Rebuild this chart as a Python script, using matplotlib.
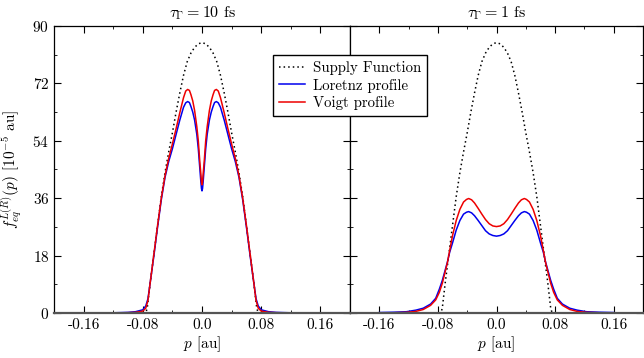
import matplotlib
matplotlib.use("Agg")
import matplotlib.pyplot as plt
from matplotlib.ticker import MultipleLocator

plt.rcParams["font.family"] = "serif"
plt.rcParams["font.serif"] = ["cmr10", "DejaVu Serif"]
plt.rcParams["mathtext.fontset"] = "cm"
plt.rcParams["axes.unicode_minus"] = False
plt.rcParams["axes.formatter.use_mathtext"] = True
plt.rcParams["font.size"] = 11

# supply function (same in both panels)
p_sup = [-0.16, -0.1, -0.08, -0.076, -0.074, -0.07, -0.065, -0.06, -0.055, -0.05, -0.045,
         -0.04, -0.035, -0.03, -0.025, -0.02, -0.015, -0.01, -0.005, 0.0,
         0.005, 0.01, 0.015, 0.02, 0.025, 0.03, 0.035, 0.04, 0.045, 0.05,
         0.055, 0.06, 0.065, 0.07, 0.074, 0.076, 0.08, 0.1, 0.16]
f_sup = [0, 0, 0, 0, 1.5, 9.5, 18.5, 27.5, 36.5, 44, 50.5,
         56.5, 63, 69, 74.5, 78.8, 81.5, 83.3, 84.4, 84.8,
         84.4, 83.3, 81.5, 78.8, 74.5, 69, 63, 56.5, 50.5, 44,
         36.5, 27.5, 18.5, 9.5, 1.5, 0, 0, 0, 0]

# tau = 10 fs
p_10 = [-0.16, -0.12, -0.1, -0.09, -0.08, -0.076, -0.073, -0.07, -0.065, -0.06, -0.055,
        -0.05, -0.045, -0.04, -0.035, -0.03, -0.025, -0.022, -0.0194, -0.017, -0.015,
        -0.0125, -0.01, -0.007, -0.005, -0.003, -0.0015, -0.0007, 0.0,
        0.0007, 0.0015, 0.003, 0.005, 0.007, 0.01, 0.0125, 0.015, 0.017, 0.0194, 0.022, 0.025,
        0.03, 0.035, 0.04, 0.045, 0.05, 0.055, 0.06, 0.065, 0.07, 0.073, 0.076, 0.08,
        0.09, 0.1, 0.12, 0.16]
lor_10 = [0, 0.06, 0.2, 0.4, 1.0, 2.2, 4.5, 9.5, 18, 27, 35.5,
          42.5, 47.5, 51.5, 56, 60.5, 64.5, 65.9, 66.3, 66, 64.8,
          63, 60.5, 56, 51.5, 45.5, 41, 39, 38.3,
          39, 41, 45.5, 51.5, 56, 60.5, 63, 64.8, 66, 66.3, 65.9, 64.5,
          60.5, 56, 51.5, 47.5, 42.5, 35.5, 27, 18, 9.5, 4.5, 2.2, 1.0,
          0.4, 0.2, 0.06, 0]
voi_10 = [0, 0.03, 0.1, 0.2, 0.6, 1.5, 4, 9.5, 18.5, 27.5, 36,
          43, 48.5, 53, 57.8, 62.8, 67.5, 69.6, 70.1, 69.8, 68.5,
          66.5, 63.5, 58.4, 54, 47.5, 43.5, 41, 40.2,
          41, 43.5, 47.5, 54, 58.4, 63.5, 66.5, 68.5, 69.8, 70.1, 69.6, 67.5,
          62.8, 57.8, 53, 48.5, 43, 36, 27.5, 18.5, 9.5, 4, 1.5, 0.6,
          0.2, 0.1, 0.03, 0]

# tau = 1 fs
p_1 = [-0.16, -0.14, -0.123, -0.11, -0.1, -0.09, -0.083, -0.078, -0.074, -0.07, -0.067,
       -0.064, -0.06, -0.055, -0.05, -0.045, -0.041, -0.038, -0.034, -0.03, -0.025,
       -0.02, -0.015, -0.01, -0.005, 0.0,
       0.005, 0.01, 0.015, 0.02, 0.025, 0.03, 0.034, 0.038, 0.041, 0.045, 0.05,
       0.055, 0.06, 0.064, 0.067, 0.07, 0.074, 0.078, 0.083, 0.09, 0.1, 0.11,
       0.123, 0.14, 0.16]
lor_1 = [0.15, 0.25, 0.4, 0.9, 1.5, 2.8, 4.6, 7.5, 10.2, 13.5, 16,
         19, 22, 26, 29, 31, 31.6, 31.8, 31.4, 30.5, 29,
         27.4, 25.8, 24.8, 24.3, 24.1,
         24.3, 24.8, 25.8, 27.4, 29, 30.5, 31.4, 31.8, 31.6, 31, 29,
         26, 22, 19, 16, 13.5, 10.2, 7.5, 4.6, 2.8, 1.5, 0.9,
         0.4, 0.25, 0.15]
voi_1 = [0.02, 0.08, 0.2, 0.5, 1.1, 2.4, 4.1, 6.5, 9.3, 13, 15.8,
         19.5, 24.3, 29, 32.5, 34.8, 35.6, 35.9, 35.5, 34.5, 32.8,
         31, 29.3, 28, 27.3, 27.1,
         27.3, 28, 29.3, 31, 32.8, 34.5, 35.5, 35.9, 35.6, 34.8, 32.5,
         29, 24.3, 19.5, 15.8, 13, 9.3, 6.5, 4.1, 2.4, 1.1, 0.5,
         0.2, 0.08, 0.02]

titles = [r"$\tau_\Gamma = 10$ fs", r"$\tau_\Gamma = 1$ fs"]
x_ticks = [-0.16, -0.08, 0.0, 0.08, 0.16]
x_labels = ["-0.16", "-0.08", "0.0", "0.08", "0.16"]
y_ticks = [0, 18, 36, 54, 72, 90]

fig = plt.figure(figsize=(6.44, 3.58), dpi=100)
ax1 = fig.add_axes([54 / 644, 0.1257, 296 / 644, 0.8017])
ax2 = fig.add_axes([350 / 644, 0.1257, 293 / 644, 0.8017])

panels = [(ax1, p_10, lor_10, voi_10), (ax2, p_1, lor_1, voi_1)]
for i, (ax, p, lor, voi) in enumerate(panels):
    ax.plot(p_sup, f_sup, color="black", ls=(0, (1, 2)), lw=1.1, label="Supply Function")
    ax.plot(p, lor, color="#0000ee", lw=1.1, label="Loretnz profile")
    ax.plot(p, voi, color="#ee0000", lw=1.1, label="Voigt profile")
    ax.set_xlim(-0.2, 0.2)
    ax.set_ylim(0, 90)
    ax.set_xticks(x_ticks)
    ax.set_xticklabels(x_labels)
    ax.set_yticks(y_ticks)
    ax.xaxis.set_minor_locator(MultipleLocator(0.04))
    ax.yaxis.set_minor_locator(MultipleLocator(9))
    ax.tick_params(which="both", direction="in", top=True, right=True, labelsize=11)
    ax.tick_params(which="major", length=5, width=0.8)
    ax.tick_params(which="minor", length=2.5, width=0.6)
    ax.set_xlabel(r"$p$ [au]", fontsize=11, labelpad=2)
    ax.set_title(titles[i], fontsize=11.5, pad=6)
    for s in ["left", "right", "top"]:
        ax.spines[s].set_linewidth(0.9)
    ax.spines["bottom"].set_linewidth(1.6)
    ax.spines["bottom"].set_color("#555555")

ax1.set_ylabel(r"$f_{eq}^{L(R)}(p)$ $[10^{-5}$ au$]$", fontsize=11, labelpad=6)
ax2.set_yticklabels([])

handles, labels = ax1.get_legend_handles_labels()
fig.legend(handles, labels, loc="upper left", bbox_to_anchor=(273 / 644, 1 - 55 / 358),
           fancybox=False, framealpha=1, edgecolor="black", fontsize=10.7,
           handlelength=1.75, borderpad=0.4, borderaxespad=0, labelspacing=0.25,
           handletextpad=0.55)

fig.savefig("out.png", dpi=100)
